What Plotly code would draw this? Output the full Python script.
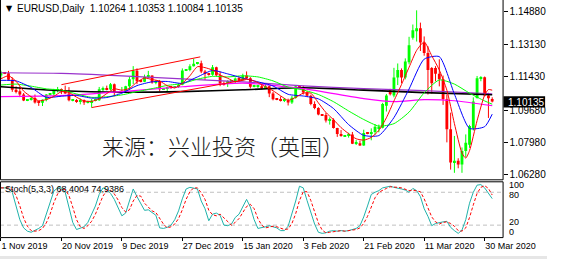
import plotly.graph_objects as go

W, H = 579, 260

# ---------------- price data (bar index 0 = 1 Nov 2019) ----------------
opens = [1.1151,1.1164,1.1162,1.1128,1.1075,1.1067,1.1050,1.1020,1.1022,1.1031,
         1.1008,1.1006,1.1022,1.1048,1.1051,1.1073,1.1077,1.1073,1.1055,1.1018,
         1.1019,1.1012,1.1021,1.1008,1.1010,1.1018,1.1020,1.1078,1.1081,1.1077,
         1.1104,1.1058,1.1062,1.1064,1.1093,1.1130,1.1175,1.1118,1.1117,1.1143,
         1.1150,1.1114,1.1122,1.1076,1.1080,1.1090,1.1089,1.1090,1.1101,1.1177,
         1.1180,1.1199,1.1213,1.1215,1.1172,1.1157,1.1155,1.1194,1.1152,1.1107,
         1.1105,1.1120,1.1122,1.1135,1.1127,1.1150,1.1136,1.1090,1.1093,1.1094,
         1.1083,1.1093,1.1055,1.1024,1.1022,1.1019,1.1020,1.1008,1.1033,1.1092,
         1.1088,1.1061,1.1044,1.1000,1.0979,1.0943,1.0941,1.0912,1.0917,1.0873,
         1.0841,1.0829,1.0832,1.0838,1.0790,1.0792,1.0780,1.0845,1.0843,1.0852,
         1.0872,1.0874,1.0990,1.1072,1.1045,1.1140,1.1180,1.1140,1.1220,1.1350,
         1.1385,1.1400,1.1325,1.1270,1.1190,1.1190,1.1160,1.1130,1.1025,1.0866,
         1.0690,1.0700,1.0680,1.0752,1.0784,1.0870,1.1031,1.1136,1.1141,1.1045,
         1.10264]
highs = [1.1176,1.1168,1.1175,1.1140,1.1093,1.1092,1.1058,1.1024,1.1040,1.1050,
         1.1014,1.1024,1.1052,1.1054,1.1080,1.1090,1.1082,1.1097,1.1089,1.1022,
         1.1026,1.1029,1.1024,1.1017,1.1026,1.1024,1.1090,1.1092,1.1097,1.1111,
         1.1108,1.1064,1.1090,1.1096,1.1144,1.1200,1.1188,1.1124,1.1155,1.1175,
         1.1151,1.1127,1.1127,1.1082,1.1092,1.1094,1.1094,1.1108,1.1188,1.1183,
         1.1210,1.1239,1.1219,1.1229,1.1180,1.1162,1.1206,1.1197,1.1171,1.1119,
         1.1125,1.1125,1.1140,1.1144,1.1160,1.1172,1.1142,1.1096,1.1101,1.1103,
         1.1106,1.1097,1.1064,1.1028,1.1040,1.1032,1.1028,1.1043,1.1096,1.1095,
         1.1096,1.1068,1.1049,1.1014,1.0983,1.0947,1.0953,1.0929,1.0924,1.0874,
         1.0862,1.0835,1.0848,1.0852,1.0809,1.0806,1.0864,1.0851,1.0871,1.0894,
         1.0891,1.1006,1.1053,1.1080,1.1191,1.1214,1.1188,1.1241,1.1355,1.1420,
         1.1495,1.1430,1.1357,1.1305,1.1195,1.1200,1.1236,1.1150,1.1050,1.0954,
         1.0831,1.0713,1.0770,1.0839,1.0890,1.1035,1.1148,1.1147,1.1145,1.1059,
         1.10353]
lows  = [1.1137,1.1158,1.1125,1.1064,1.1056,1.1036,1.1015,1.1015,1.1018,1.1002,
         1.0990,1.0989,1.1014,1.1046,1.1039,1.1061,1.1052,1.1054,1.1014,1.1014,
         1.1006,1.0998,1.0995,1.1003,1.0981,1.1014,1.1016,1.1065,1.1072,1.1072,
         1.1040,1.1056,1.1060,1.1058,1.1074,1.1105,1.1105,1.1114,1.1115,1.1135,
         1.1107,1.1104,1.1066,1.1074,1.1067,1.1080,1.1083,1.1085,1.1099,1.1174,
         1.1173,1.1198,1.1209,1.1163,1.1127,1.1150,1.1149,1.1147,1.1094,1.1097,
         1.1090,1.1117,1.1110,1.1116,1.1122,1.1133,1.1082,1.1088,1.1085,1.1076,
         1.1081,1.1036,1.1019,1.1020,1.1013,1.1010,1.0992,1.1000,1.1028,1.1085,
         1.1050,1.1036,1.0993,1.0972,1.0940,1.0938,1.0902,1.0891,1.0870,1.0826,
         1.0827,1.0826,1.0822,1.0788,1.0783,1.0778,1.0779,1.0840,1.0808,1.0838,
         1.0850,1.0871,1.0960,1.1045,1.1035,1.1100,1.1110,1.1130,1.1210,1.1340,
         1.1330,1.1280,1.1255,1.1050,1.1055,1.1120,1.1093,1.0995,1.0797,1.0653,
         1.0636,1.0660,1.0636,1.0720,1.0768,1.0860,1.1028,1.1120,1.1040,1.0926,
         1.10084]
closes = [1.1166,1.1162,1.1128,1.1075,1.1067,1.1050,1.1018,1.1022,1.1031,1.1008,
          1.1006,1.1022,1.1050,1.1051,1.1073,1.1077,1.1073,1.1055,1.1020,1.1019,
          1.1012,1.1021,1.1008,1.1010,1.1017,1.1020,1.1078,1.1081,1.1077,1.1104,
          1.1060,1.1062,1.1064,1.1093,1.1130,1.1175,1.1120,1.1117,1.1143,1.1150,
          1.1114,1.1122,1.1078,1.1080,1.1090,1.1089,1.1090,1.1101,1.1177,1.1180,
          1.1199,1.1213,1.1215,1.1172,1.1159,1.1155,1.1194,1.1152,1.1107,1.1105,
          1.1121,1.1122,1.1135,1.1127,1.1150,1.1136,1.1091,1.1093,1.1094,1.1083,
          1.1093,1.1055,1.1025,1.1022,1.1019,1.1020,1.1008,1.1033,1.1093,1.1088,
          1.1061,1.1044,1.1000,1.0979,1.0944,1.0941,1.0912,1.0917,1.0873,1.0841,
          1.0830,1.0832,1.0838,1.0790,1.0792,1.0780,1.0846,1.0843,1.0852,1.0880,
          1.0880,1.1000,1.1045,1.1052,1.1140,1.1180,1.1140,1.1225,1.1310,1.1390,
          1.1400,1.1325,1.1270,1.1180,1.1110,1.1160,1.1130,1.1025,1.0866,1.0690,
          1.0700,1.0680,1.0752,1.0795,1.0884,1.1013,1.1136,1.1140,1.1045,1.1030,
          1.10135]

# ---------------- moving averages (sampled at bar indices) ----------------
ma_red_idx = [0,2,4,6,8,10,12,14,16,18,20,22,24,26,28,30,32,34,36,38,40,42,44,46,48,
              50,52,54,56,58,60,62,64,66,68,70,72,74,76,78,80,82,84,86,88,90,92,94,96,
              98,100,102,104,106,108,110,112,114,116,118,120,122,123,124,126,128,129,130]
ma_red = [1.1133,1.1149,1.1120,1.1068,1.1038,1.1017,1.1023,1.1040,1.1065,1.1060,1.1036,
          1.1016,1.1014,1.1027,1.1055,1.1080,1.1073,1.1082,1.1116,1.1137,1.1129,1.1121,
          1.1097,1.1085,1.1109,1.1149,1.1197,1.1192,1.1179,1.1153,1.1136,1.1118,1.1131,
          1.1128,1.1113,1.1091,1.1070,1.1043,1.1019,1.1035,1.1057,1.1057,1.1006,1.0955,
          1.0917,1.0875,1.0843,1.0816,1.0809,1.0823,1.0860,1.0927,1.1016,1.1103,1.1194,
          1.1283,1.1328,1.1255,1.1180,1.1073,1.0896,1.0740,1.0714,1.0753,1.0912,1.1047,
          1.1076,1.1073]
ma_idx = [0,4,8,12,16,20,24,28,32,36,40,44,48,52,56,60,64,68,72,76,80,84,88,92,96,
          100,104,108,112,116,120,124,128,130]
ma_blue = [1.1125,1.1122,1.1087,1.1035,1.1041,1.1045,1.1031,1.1034,1.1057,1.1097,1.1117,
           1.1119,1.1109,1.1143,1.1177,1.1159,1.1137,1.1117,1.1095,1.1051,1.1042,1.1027,
           1.0976,1.0891,1.0834,1.0833,1.0928,1.1079,1.1237,1.1250,1.1052,1.0871,1.0880,
           1.0946]
ma_green = [1.1100,1.1105,1.1094,1.1080,1.1073,1.1053,1.1035,1.1038,1.1048,1.1065,1.1081,
            1.1098,1.1108,1.1131,1.1146,1.1143,1.1149,1.1143,1.1122,1.1089,1.1074,1.1050,
            1.1012,1.0963,1.0918,1.0883,1.0896,1.0957,1.1059,1.1127,1.1105,1.1057,1.1016,
            1.0999]
long_idx = [0,16,32,48,64,80,96,112,130]
ma_purple = [1.1165,1.1162,1.1149,1.1133,1.1117,1.1096,1.1081,1.1070,1.1054]
ma_black = [1.1091,1.1070,1.1062,1.1065,1.1075,1.1086,1.1073,1.1060,1.1049]
mag_idx = [0,16,32,48,64,80,96,104,112,120,130]
ma_magenta = [1.1039,1.1044,1.1065,1.1091,1.1110,1.1081,1.1028,1.1012,1.1023,1.1017,1.0991]

# channel (trend) lines: [start index, end index], [start price, end price]
chan_up_idx = [16, 52.75]
chan_up_val = [1.1102, 1.1249]
chan_lo_idx = [24, 64.75]
chan_lo_val = [1.0981, 1.1128]

# ---------------- stochastic (5,3,3) ----------------
stoch_main = [88,88,88,80,55,30,15,9,7,10,14,19,40,62,82,88,88,80,53,25,
              12,14,17,25,40,55,76,88,85,78,67,53,37,42,64,86,72,60,47,48,
              43,38,15,14,16,20,30,46,68,86,89,88,86,64,50,28,40,42,38,20,
              19,22,34,40,54,67,53,30,14,15,17,19,17,15,10,10,18,40,64,91,
              88,65,42,22,7,5,6,9,10,9,10,9,10,12,14,19,35,55,76,80,
              83,88,90,91,89,88,86,84,80,87,83,72,50,36,19,23,25,26,27,16,
              10,5,11,30,60,80,93,94,88,78,68.4004]
stoch_signal = [88,88,88,85,74,55,33,18,10,9,10,14,24,40,61,77,86,85,74,53,
                30,17,14,19,27,40,57,73,83,84,77,66,52,44,48,64,74,73,60,52,
                46,43,32,22,15,17,22,32,48,67,81,88,88,79,67,47,39,37,40,33,
                26,20,25,32,43,54,58,50,32,20,15,17,18,17,14,12,13,23,41,65,
                81,81,65,43,24,11,6,7,8,9,10,9,10,10,12,15,23,36,55,70,
                80,84,87,90,90,89,88,86,83,84,83,81,68,53,35,26,22,25,26,23,
                18,10,9,15,34,57,78,89,92,87,74.9386]

price_ticks = [1.14880, 1.13130, 1.11430, 1.09680, 1.07980, 1.06280]
date_idx = [0, 16, 32, 48, 64, 80, 96, 112, 128]
date_labels = ["1 Nov 2019", "20 Nov 2019", "9 Dec 2019", "27 Dec 2019", "15 Jan 2020",
               "3 Feb 2020", "21 Feb 2020", "11 Mar 2020", "30 Mar 2020"]
stoch_levels = [80, 20]
stoch_level_text = [("100", 186), ("80", 196), ("20", 223), ("0", 233)]
last_price = "1.10135"
header = "EURUSD,Daily  1.10264 1.10353 1.10084 1.10135"
stoch_text = "Stoch(5,3,3) 68,4004 74,9386"
watermark = "来源：兴业投资（英国）"

UP, DN = "#00ff00", "#ff0000"
FONT = "Liberation Sans"

def px(x):
    return x / W

def py(y):
    return 1 - y / H

fig = go.Figure()

# wicks
for col, cond in ((UP, lambda o, c: c >= o), (DN, lambda o, c: c < o)):
    wx, wy = [], []
    for i, (o, h, l, c) in enumerate(zip(opens, highs, lows, closes)):
        if cond(o, c):
            wx += [i, i, None]
            wy += [l, h, None]
    fig.add_trace(go.Scatter(x=wx, y=wy, mode="lines", line=dict(color=col, width=1),
                             hoverinfo="skip", xaxis="x", yaxis="y"))
# bodies
for col, cond in ((UP, lambda o, c: c >= o), (DN, lambda o, c: c < o)):
    bx, bb, bh = [], [], []
    for i, (o, c) in enumerate(zip(opens, closes)):
        if cond(o, c):
            bx.append(i)
            bb.append(min(o, c))
            bh.append(max(abs(c - o), 0.0005))
    fig.add_trace(go.Bar(x=bx, y=bh, base=bb, width=0.75,
                         marker=dict(color=col, line=dict(width=0)),
                         hoverinfo="skip", xaxis="x", yaxis="y"))

# moving averages
for xs, ys, col, lw in ((long_idx, ma_purple, "#9932cc", 1.2),
                        (long_idx, ma_black, "#000000", 1.6),
                        (mag_idx, ma_magenta, "#ff00ff", 1.2),
                        (ma_idx, ma_green, "#00ff00", 1),
                        (ma_idx, ma_blue, "#0000ff", 1),
                        (ma_red_idx, ma_red, "#ff0000", 1)):
    fig.add_trace(go.Scatter(x=xs, y=ys, mode="lines",
                             line=dict(color=col, width=lw, shape="spline", smoothing=0.6),
                             hoverinfo="skip", xaxis="x", yaxis="y"))

# channel lines
for xs, ys in ((chan_up_idx, chan_up_val), (chan_lo_idx, chan_lo_val)):
    fig.add_trace(go.Scatter(x=xs, y=ys, mode="lines", line=dict(color="#ff0000", width=1),
                             hoverinfo="skip", xaxis="x", yaxis="y"))

# stochastic
sidx = list(range(len(stoch_main)))
for lv in stoch_levels:
    fig.add_trace(go.Scatter(x=[-0.25, 132.75], y=[lv, lv], mode="lines",
                             line=dict(color="#c0c0c0", width=1, dash="4px,3px"),
                             hoverinfo="skip", xaxis="x2", yaxis="y2"))
fig.add_trace(go.Scatter(x=sidx, y=stoch_main, mode="lines", line=dict(color="#20b2aa", width=1),
                         hoverinfo="skip", xaxis="x2", yaxis="y2"))
fig.add_trace(go.Scatter(x=sidx, y=stoch_signal, mode="lines", line=dict(color="#ff0000", width=1, dash="3px,2px"),
                         hoverinfo="skip", xaxis="x2", yaxis="y2"))

XR = [-0.25, 132.75]
fig.update_layout(
    width=W, height=H, margin=dict(l=0, r=0, t=0, b=0),
    paper_bgcolor="white", plot_bgcolor="white", showlegend=False,
    barmode="overlay",
    xaxis=dict(domain=[0, px(532)], range=XR, showticklabels=False, showgrid=False,
               zeroline=False, ticks="", fixedrange=True),
    yaxis=dict(domain=[py(180), 1], range=[1.06017, 1.15496], side="right",
               tickvals=price_ticks, ticktext=["%.5f" % v for v in price_ticks],
               ticks="outside", ticklen=4, tickcolor="black", showgrid=False, zeroline=False,
               tickfont=dict(family=FONT, size=10, color="black")),
    xaxis2=dict(domain=[0, px(532)], range=XR, anchor="y2", tickvals=date_idx, ticktext=date_labels,
                ticks="outside", ticklen=3, tickcolor="black", ticklabelposition="outside right",
                tickangle=0, showgrid=False, zeroline=False,
                tickfont=dict(family=FONT, size=9, color="black")),
    yaxis2=dict(domain=[py(238), py(182)], range=[-1.8, 100], anchor="x2",
                showticklabels=False, showgrid=False, zeroline=False),
)

shapes = []
# main panel borders (left, right, bottom)
for x0, y0, x1, y1 in ((0.5, 0, 0.5, 180.5), (532.5, 0, 532.5, 180.5), (0.5, 180.5, 532.5, 180.5)):
    shapes.append(dict(type="line", xref="paper", yref="paper", x0=px(x0), x1=px(x1), y0=py(y0), y1=py(y1),
                       line=dict(color="black", width=1)))
# indicator panel border
shapes.append(dict(type="rect", xref="paper", yref="paper", x0=px(0.5), x1=px(532.5), y0=py(238.5), y1=py(182.5),
                   line=dict(color="black", width=1), fillcolor="rgba(0,0,0,0)"))
# current price box
shapes.append(dict(type="rect", xref="paper", yref="paper", x0=px(533), x1=px(577), y0=py(108), y1=py(96.5),
                   line=dict(width=0), fillcolor="black"))
# bottom gray strip
shapes.append(dict(type="rect", xref="paper", yref="paper", x0=0, x1=1, y0=0, y1=py(257),
                   line=dict(width=0), fillcolor="#e6e6e6"))
fig.update_layout(shapes=shapes)

ann = []
ann.append(dict(x=px(536), y=py(102.5), xref="paper", yref="paper", text=last_price, showarrow=False,
                xanchor="left", yanchor="middle", font=dict(family=FONT, size=10, color="white")))
ann.append(dict(x=px(4), y=py(9), xref="paper", yref="paper", text="▼", showarrow=False,
                xanchor="left", yanchor="middle", font=dict(family="DejaVu Sans", size=8, color="black")))
ann.append(dict(x=px(16), y=py(9), xref="paper", yref="paper", text=header.replace("  ", "&nbsp;&nbsp;"), showarrow=False,
                xanchor="left", yanchor="middle", font=dict(family=FONT, size=10, color="black")))
ann.append(dict(x=px(3), y=py(190), xref="paper", yref="paper", text=stoch_text, showarrow=False,
                xanchor="left", yanchor="middle", font=dict(family=FONT, size=9, color="black")))
for t, yy in stoch_level_text:
    ann.append(dict(x=px(537), y=py(yy), xref="paper", yref="paper", text=t, showarrow=False,
                    xanchor="left", yanchor="middle", font=dict(family=FONT, size=9, color="black")))
ann.append(dict(x=px(106), y=py(146), xref="paper", yref="paper", text=watermark, showarrow=False,
                xanchor="left", yanchor="middle",
                font=dict(family="Noto Sans CJK SC", size=22, weight=300, color="#1a1a1a")))
fig.update_layout(annotations=ann)

fig.write_html("out.html")
